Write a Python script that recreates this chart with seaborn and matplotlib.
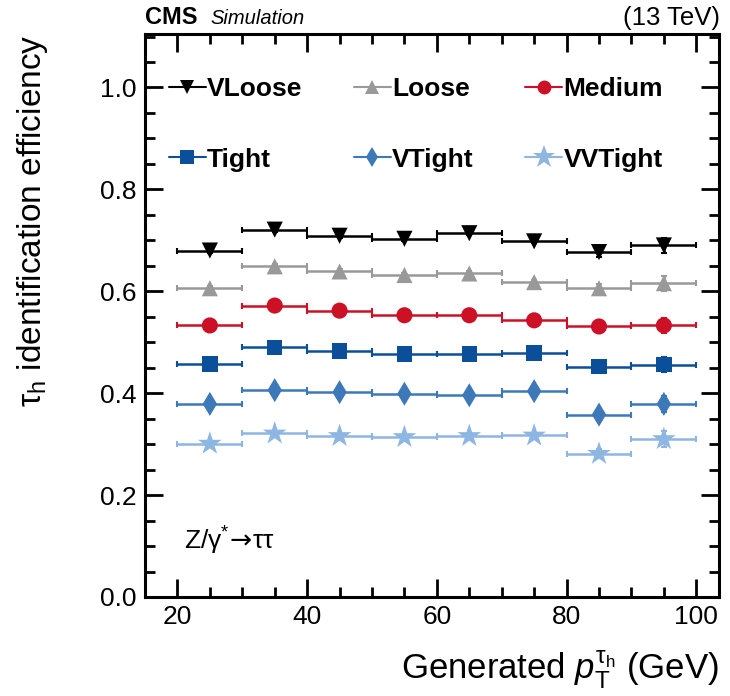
import matplotlib
matplotlib.use("Agg")
import matplotlib.pyplot as plt
from matplotlib.lines import Line2D
from matplotlib.ticker import MultipleLocator
import seaborn as sns
import pandas as pd

# ---- data ----
bin_lo = [20, 30, 40, 50, 60, 70, 80, 90]
bin_hi = [30, 40, 50, 60, 70, 80, 90, 100]
working_points = ["VLoose", "Loose", "Medium", "Tight", "VTight", "VVTight"]
eff_vloose = [0.680, 0.721, 0.709, 0.703, 0.714, 0.698, 0.677, 0.690]
eff_loose = [0.606, 0.649, 0.639, 0.632, 0.635, 0.618, 0.606, 0.616]
eff_medium = [0.533, 0.572, 0.562, 0.553, 0.553, 0.543, 0.531, 0.533]
eff_tight = [0.457, 0.490, 0.483, 0.477, 0.477, 0.479, 0.452, 0.456]
eff_vtight = [0.379, 0.406, 0.402, 0.399, 0.396, 0.404, 0.358, 0.379]
eff_vvtight = [0.301, 0.321, 0.316, 0.314, 0.316, 0.317, 0.281, 0.310]
eff_err = [0.004, 0.004, 0.004, 0.004, 0.004, 0.004, 0.009, 0.015]

colors = {"VLoose": "#000000", "Loose": "#999999", "Medium": "#cc1126",
          "Tight": "#0b4f9b", "VTight": "#3d78b9", "VVTight": "#8db6e3"}
markers = {"VLoose": "v", "Loose": "^", "Medium": "o",
           "Tight": "s", "VTight": "d", "VVTight": "*"}
msizes = {"VLoose": 135, "Loose": 135, "Medium": 135,
          "Tight": 125, "VTight": 150, "VVTight": 320}

effs = {"VLoose": eff_vloose, "Loose": eff_loose, "Medium": eff_medium,
        "Tight": eff_tight, "VTight": eff_vtight, "VVTight": eff_vvtight}

rows = []
for wp in working_points:
    for lo, hi, e, err in zip(bin_lo, bin_hi, effs[wp], eff_err):
        rows.append({"wp": wp, "pt": 0.5 * (lo + hi), "halfw": 0.5 * (hi - lo),
                     "eff": e, "err": err})
df = pd.DataFrame(rows)

sns.set_theme(style="ticks")
plt.rcParams["font.family"] = ["Liberation Sans", "DejaVu Sans"]
plt.rcParams["text.color"] = "black"
plt.rcParams["axes.labelcolor"] = "black"
plt.rcParams["xtick.color"] = "black"
plt.rcParams["ytick.color"] = "black"
plt.rcParams["mathtext.fontset"] = "custom"
plt.rcParams["mathtext.rm"] = "Liberation Sans"
plt.rcParams["mathtext.it"] = "Liberation Sans:italic"
plt.rcParams["mathtext.bf"] = "Liberation Sans:bold"
plt.rcParams["mathtext.sf"] = "DejaVu Sans"

fig = plt.figure(figsize=(7.30, 6.96), dpi=100)
ax = fig.add_axes([145 / 730, 1 - 597 / 696, (719 - 145) / 730, (597 - 34) / 696])

for wp in working_points:
    sub = df[df.wp == wp]
    ax.errorbar(sub.pt, sub.eff, xerr=sub.halfw, yerr=sub.err, fmt="none",
                ecolor=colors[wp], elinewidth=1.8, capsize=2.5, capthick=1.5, zorder=2)

sns.scatterplot(data=df, x="pt", y="eff", hue="wp", style="wp",
                palette=colors, markers=markers, size="wp",
                sizes=msizes, linewidth=0, legend=False, ax=ax, zorder=3)

ax.set_xlim(15, 103.5)
ax.set_ylim(0, 1.105)
ax.xaxis.set_major_locator(MultipleLocator(20))
ax.xaxis.set_minor_locator(MultipleLocator(5))
ax.yaxis.set_minor_locator(MultipleLocator(0.05))
ax.set_yticks([0.0, 0.2, 0.4, 0.6, 0.8, 1.0])
ax.set_yticklabels(["0.0", "0.2", "0.4", "0.6", "0.8", "1.0"])
ax.tick_params(which="both", direction="in", top=True, right=True, width=2,
               labelsize=19, colors="black")
ax.tick_params(which="major", length=13, pad=6)
ax.tick_params(which="minor", length=7)
for s in ax.spines.values():
    s.set_linewidth(2.2)
    s.set_color("black")

ax.set_xlabel(r"Generated $p_{\mathrm{T}}^{\mathrm{τ}_{\mathrm{h}}}$ (GeV)", fontsize=25,
              loc="right", labelpad=14)
ax.set_ylabel(r"τ$_{\mathrm{h}}$ identification efficiency", fontsize=24,
              loc="top")
ax.yaxis.set_label_coords(-0.165, 1.0)

# legend
order = ["VLoose", "Tight", "Loose", "VTight", "Medium", "VVTight"]
handles = []
for wp in order:
    handles.append(Line2D([0], [0], color=colors[wp], marker=markers[wp],
                          markersize=17 if wp == "VVTight" else 10,
                          linewidth=1.5, markeredgewidth=0))
leg = ax.legend(handles, order, ncol=3, loc="upper left",
                bbox_to_anchor=(0.0, 0.965), frameon=False,
                prop={"weight": "bold", "size": 19}, handlelength=1.4,
                handletextpad=0.05, columnspacing=1.95, labelspacing=1.75)

fig.text(145 / 730, 1 - 18 / 696, "CMS", fontsize=17, fontweight="bold",
         va="center", ha="left")
fig.text(210 / 730, 1 - 18 / 696, "Simulation", fontsize=14.5, style="italic",
         va="center", ha="left")
fig.text(720 / 730, 1 - 18 / 696, "(13 TeV)", fontsize=18.5, va="center", ha="right")
ax.text(0.068, 0.1, r"Z/γ$^{*}\!\mathsf{\rightarrow}\!$ττ", transform=ax.transAxes,
        fontsize=19, va="center", ha="left")

fig.savefig("out.png", dpi=100)
